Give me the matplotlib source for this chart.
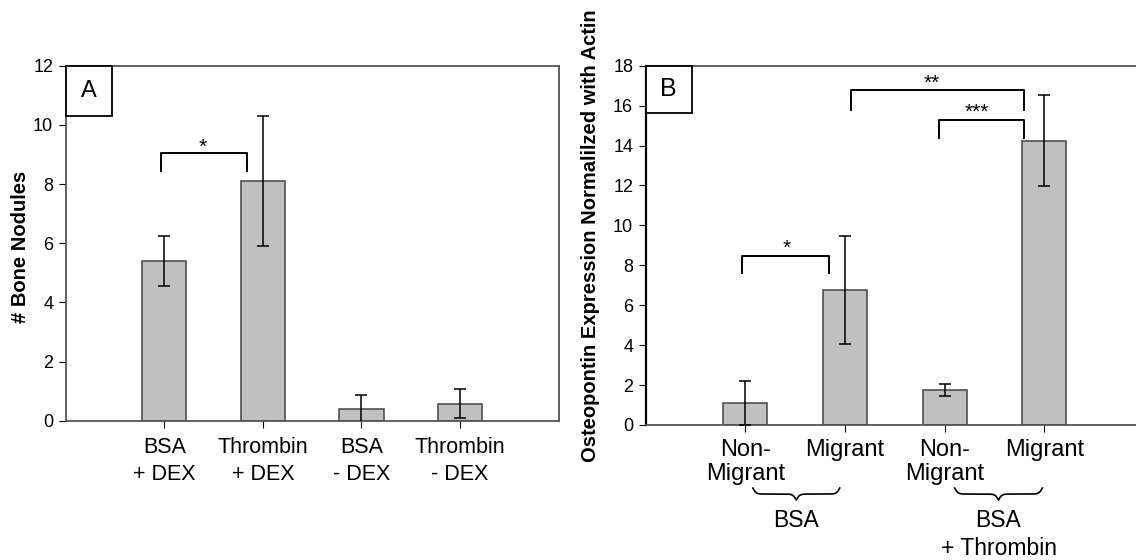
import numpy as np
import matplotlib
matplotlib.use("Agg")
import matplotlib.pyplot as plt
from matplotlib.patches import Rectangle

plt.rcParams['font.family'] = ['Liberation Sans', 'DejaVu Sans']

# panel A data
a_labels = ["BSA\n+ DEX", "Thrombin\n+ DEX", "BSA\n- DEX", "Thrombin\n- DEX"]
a_means = [5.4, 8.1, 0.38, 0.58]
a_errs = [0.86, 2.2, 0.49, 0.49]

# panel B data
b_labels = ["Non-\nMigrant", "Migrant", "Non-\nMigrant", "Migrant"]
b_means = [1.12, 6.77, 1.75, 14.24]
b_errs = [1.1, 2.69, 0.3, 2.27]
b_groups = ["BSA", "BSA"]

BAR_FC = "#c0c0c0"
BAR_EC = "#505050"


def draw_bracket(ax, x0, x1, y_top, y_leg, stars, x_star, dy):
    ax.plot([x0, x0, x1, x1], [y_leg, y_top, y_top, y_leg], color="black", lw=1.4,
            clip_on=False)
    ax.text(x_star, y_top + dy, stars, ha="center", va="baseline", fontsize=15)


def draw_brace(ax, x0, x1, y_top, y_tip, beta=60):
    n = 301
    xs = np.linspace(x0, x1, n)
    half = xs[:n // 2 + 1]
    yh = 1 / (1 + np.exp(-beta * (half - half[0]))) + 1 / (1 + np.exp(-beta * (half - half[-1])))
    v = np.concatenate((yh, yh[-2::-1]))
    ys = y_top + (v - 0.5) * (y_tip - y_top)
    ax.plot(xs, ys, color="black", lw=1.2, transform=ax.get_xaxis_transform(), clip_on=False)


def label_box(ax, txt, w, h, fs):
    ax.add_patch(Rectangle((0, 1 - h), w, h, transform=ax.transAxes, fc="white",
                           ec="black", lw=1.3, zorder=5, clip_on=False))
    ax.text(w / 2, 1 - h / 2, txt, transform=ax.transAxes, ha="center", va="center",
            fontsize=fs, zorder=6)


fig = plt.figure(figsize=(11.36, 5.6), dpi=100)

# ---- panel A
axA = fig.add_axes([0.0578, 0.2487, 0.434, 0.634])
xa = np.arange(1, len(a_means) + 1)
axA.bar(xa, a_means, width=0.45, color=BAR_FC, edgecolor=BAR_EC, lw=1.2, zorder=2)
axA.errorbar(xa, a_means, yerr=a_errs, fmt="none", ecolor="black", elinewidth=1.1,
             capsize=4, capthick=1.1, zorder=3)
axA.set_xlim(0, 5)
axA.set_ylim(0, 12)
axA.set_yticks(range(0, 13, 2))
axA.set_xticks(xa)
axA.set_xticklabels(a_labels, fontsize=15.5, linespacing=1.4)
axA.tick_params(axis="y", labelsize=13, direction="out", length=5, pad=4)
axA.tick_params(axis="x", direction="out", length=5, pad=6.5)
for s in axA.spines.values():
    s.set_color("#555555")
    s.set_linewidth(1.3)
label_box(axA, "A", 0.095, 0.141, 17)
draw_bracket(axA, 0.97, 1.84, 9.06, 8.44, "*", 1.39, 0.0)
fig.text(21 / 1136, 1 - 246.5 / 560, "# Bone Nodules", rotation=90, ha="center",
         va="center", fontsize=14.5, fontweight="bold")

# ---- panel B
axB = fig.add_axes([0.5684, 0.2411, 0.4316, 0.6416])
xb = np.arange(1, len(b_means) + 1)
axB.bar(xb, b_means, width=0.44, color=BAR_FC, edgecolor=BAR_EC, lw=1.2, zorder=2)
axB.errorbar(xb, b_means, yerr=b_errs, fmt="none", ecolor="black", elinewidth=1.1,
             capsize=4, capthick=1.1, zorder=3)
axB.set_xlim(0, 4.92)
axB.set_ylim(0, 18)
axB.set_yticks(range(0, 19, 2))
axB.set_xticks(xb)
axB.set_xticklabels(b_labels, fontsize=17, linespacing=1.15)
axB.tick_params(axis="y", labelsize=13, direction="out", length=5, pad=4)
axB.tick_params(axis="x", direction="out", length=5, pad=5)
axB.spines["right"].set_visible(False)
axB.spines["left"].set_linewidth(1.6)
axB.spines["left"].set_color("black")
axB.spines["bottom"].set_color("#555555")
axB.spines["top"].set_color("#555555")
axB.spines["bottom"].set_linewidth(1.3)
axB.spines["top"].set_linewidth(1.3)
label_box(axB, "B", 0.094, 0.131, 18)
draw_bracket(axB, 0.97, 1.84, 8.49, 7.62, "*", 1.41, 0.08)
draw_bracket(axB, 2.06, 3.80, 16.77, 15.76, "**", 2.87, 0.08)
draw_bracket(axB, 2.94, 3.80, 15.30, 14.36, "***", 3.32, 0.08)

draw_brace(axB, 1.075, 1.947, -0.1755, -0.209)
draw_brace(axB, 3.10, 3.98, -0.1755, -0.209)
axB.text(1.51, -0.267, b_groups[0], transform=axB.get_xaxis_transform(), ha="center",
         va="center", fontsize=16.5)
axB.text(3.54, -0.267, b_groups[1], transform=axB.get_xaxis_transform(), ha="center",
         va="center", fontsize=16.5)
axB.text(3.55, -0.345, "+ Thrombin", transform=axB.get_xaxis_transform(), ha="center",
         va="center", fontsize=16.5)

fig.text(591 / 1136, 1 - 236 / 560, "Osteopontin Expression Normalilzed with Actin",
         rotation=90, ha="center", va="center", fontsize=14.5, fontweight="bold")

fig.savefig("out.png", dpi=100)
